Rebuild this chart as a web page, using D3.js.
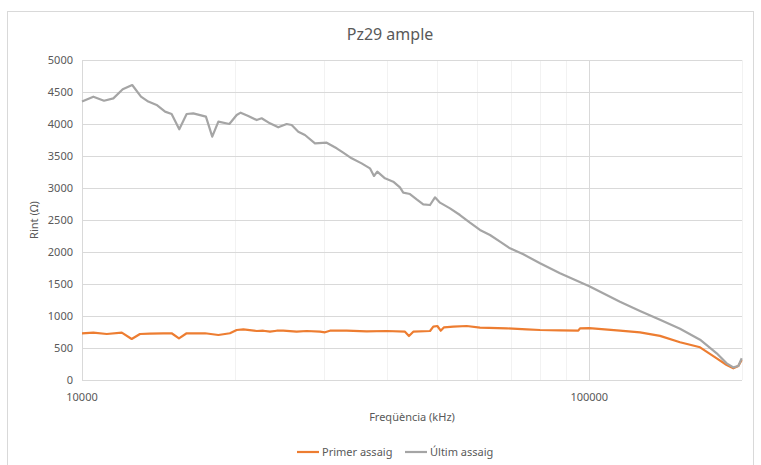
<!DOCTYPE html>
<html>
<head>
<meta charset="utf-8">
<script src="https://cdn.jsdelivr.net/npm/d3@7"></script>
<style>
  body { margin: 0; background: #fff; }
  svg { display: block; font-family: "Noto Sans", "Open Sans", sans-serif; }
</style>
</head>
<body>
<svg width="761" height="465"></svg>
<script>
// Frequencies, values in ohm
const grayFreq = [10000, 10530, 11050, 11530, 12030, 12560, 13070, 13510, 14070, 14580,
  15020, 15550, 16080, 16570, 17550, 18060, 18570, 19520, 20180, 20550,
  21270, 22100, 22600, 23470, 24370, 25320, 25900, 26690, 27510, 28790,
  30360, 31770, 32730, 34000, 35580, 36950, 37630, 38200, 39560, 41070,
  42340, 42980, 44310, 45680, 47070, 48530, 49640, 50780, 53140, 55600,
  58180, 60880, 63720, 66680, 69770, 74130, 79960, 87550, 100000, 114940,
  125870, 137850, 150960, 165320, 178310, 186590, 192290, 196680, 199740];
const grayVal = [4350, 4427, 4364, 4400, 4542, 4609, 4427, 4350, 4292, 4193,
  4156, 3917, 4156, 4167, 4115, 3802, 4036, 4000, 4140, 4177,
  4125, 4062, 4089, 4010, 3948, 4000, 3984, 3880, 3828, 3698,
  3708, 3620, 3552, 3464, 3385, 3307, 3188, 3255, 3151, 3099,
  3010, 2927, 2906, 2823, 2745, 2734, 2854, 2771, 2682, 2578,
  2458, 2344, 2266, 2161, 2057, 1964, 1823, 1667, 1465, 1224,
  1080, 940, 800, 630, 417, 260, 198, 219, 339];

const orangeFreq = [10000, 10530, 11190, 11980, 12530, 13010, 13610, 14460, 15020, 15530,
  16080, 17480, 18570, 19570, 20180, 20800, 22100, 22770, 23470, 24200,
  24930, 26490, 27720, 29450, 30130, 30820, 33240, 36410, 39870, 43320,
  44110, 44980, 48530, 49260, 50170, 50950, 51720, 53940, 57320, 60880,
  68740, 75280, 79960, 87550, 95130, 95880, 100000, 114940, 125870, 137850,
  150960, 165320, 178310, 186590, 192290, 196680, 199740];
const orangeVal = [730, 740, 719, 740, 641, 719, 725, 730, 730, 651,
  730, 730, 703, 730, 781, 792, 766, 770, 755, 770,
  770, 755, 766, 755, 745, 770, 770, 760, 766, 755,
  688, 755, 766, 833, 844, 770, 823, 833, 844, 818,
  807, 792, 781, 775, 770, 807, 810, 770, 745, 690,
  590, 511, 339, 234, 183, 219, 313];

const seriesNames = ["Primer assaig", "Últim assaig"];
const seriesColors = ["#ED7D31", "#A5A5A5"];
const yTicks = [0, 500, 1000, 1500, 2000, 2500, 3000, 3500, 4000, 4500, 5000];
const xMajor = [10000, 100000];
const xMinor = [20000, 30000, 40000, 50000, 60000, 70000, 80000, 90000, 200000];

const svg = d3.select("svg");
const textColor = "#595959";

// chart frame
svg.append("rect")
  .attr("x", 7.5).attr("y", 11.5)
  .attr("width", 746).attr("height", 470)
  .attr("fill", "#fff").attr("stroke", "#D9D9D9");

const x = d3.scaleLog().domain([10000, 200000]).range([82, 742]);
const y = d3.scaleLinear().domain([0, 5000]).range([380, 60]);

// gridlines
const grid = svg.append("g");
grid.selectAll(".minor").data(xMinor).enter().append("line")
  .attr("x1", d => Math.round(x(d)) + 0.5).attr("x2", d => Math.round(x(d)) + 0.5)
  .attr("y1", y(5000)).attr("y2", y(0))
  .attr("stroke", "#F2F2F2").attr("stroke-width", 1);
grid.selectAll(".hline").data(yTicks.slice(1)).enter().append("line")
  .attr("x1", 82).attr("x2", 742)
  .attr("y1", d => Math.round(y(d)) + 0.5).attr("y2", d => Math.round(y(d)) + 0.5)
  .attr("stroke", "#D9D9D9").attr("stroke-width", 1);
grid.selectAll(".major").data(xMajor).enter().append("line")
  .attr("x1", d => Math.round(x(d)) + 0.5).attr("x2", d => Math.round(x(d)) + 0.5)
  .attr("y1", y(5000)).attr("y2", y(0))
  .attr("stroke", "#D9D9D9").attr("stroke-width", 1);

// axis lines
svg.append("line")
  .attr("x1", 82).attr("x2", 742).attr("y1", 380.5).attr("y2", 380.5)
  .attr("stroke", "#D9D9D9");

// y tick labels
svg.append("g").selectAll("text").data(yTicks).enter().append("text")
  .attr("x", 73).attr("y", d => y(d)).attr("dy", "0.35em")
  .attr("text-anchor", "end").attr("font-size", 11).attr("fill", textColor)
  .text(d => d);

// x tick labels
svg.append("g").selectAll("text").data(xMajor).enter().append("text")
  .attr("x", d => x(d)).attr("y", 401)
  .attr("text-anchor", "middle").attr("font-size", 11).attr("fill", textColor)
  .text(d => d);

// titles
svg.append("text").attr("x", 390).attr("y", 40)
  .attr("text-anchor", "middle").attr("font-size", 16).attr("fill", textColor)
  .text("Pz29 ample");
svg.append("text").attr("x", 412).attr("y", 421)
  .attr("text-anchor", "middle").attr("font-size", 11).attr("fill", textColor)
  .text("Freqüència (kHz)");
svg.append("text")
  .attr("transform", "translate(38,220) rotate(-90)")
  .attr("text-anchor", "middle").attr("font-size", 11).attr("fill", textColor)
  .text("Rint (Ω)");

// series
const line = d3.line().x(d => x(d[0])).y(d => y(d[1]));
const seriesData = [
  d3.zip(orangeFreq, orangeVal),
  d3.zip(grayFreq, grayVal)
];
svg.append("g").selectAll("path").data(seriesData).enter().append("path")
  .attr("d", line)
  .attr("fill", "none")
  .attr("stroke", (d, i) => seriesColors[i])
  .attr("stroke-width", 2.2)
  .attr("stroke-linejoin", "round");

// legend
const legendX = [297, 405];
const legend = svg.append("g").selectAll("g").data(seriesNames).enter().append("g")
  .attr("transform", (d, i) => `translate(${legendX[i]},452)`);
legend.append("line")
  .attr("x1", 0).attr("x2", 22).attr("y1", 0).attr("y2", 0)
  .attr("stroke", (d, i) => seriesColors[i]).attr("stroke-width", 2.2);
legend.append("text")
  .attr("x", 25).attr("dy", "0.35em")
  .attr("font-size", 11).attr("fill", textColor)
  .text(d => d);
</script>
</body>
</html>
